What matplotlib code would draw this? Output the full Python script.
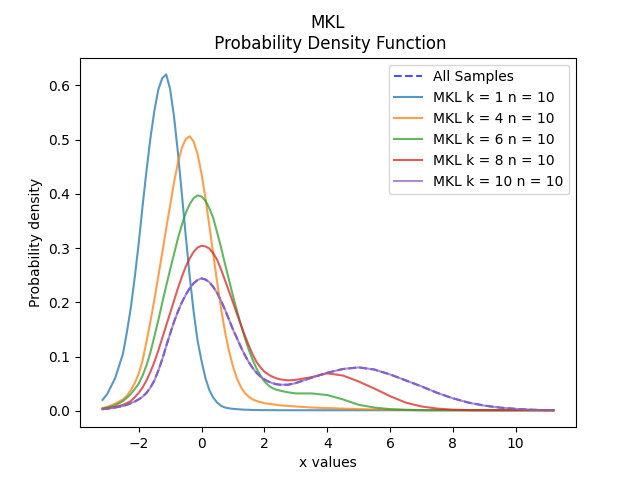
import matplotlib
matplotlib.use('Agg')
import matplotlib.pyplot as plt

x_values = [-3.15, -3.0, -2.75,
            -2.5, -2.375, -2.25, -2.125, -2.0, -1.875, -1.75, -1.625, -1.5, -1.375,
            -1.25, -1.125, -1.0, -0.875, -0.75, -0.625, -0.5, -0.375, -0.25, -0.125,
            0.0, 0.125, 0.25, 0.375, 0.5, 0.625, 0.75, 0.875, 1.0, 1.125,
            1.25, 1.375, 1.5, 1.625, 1.75, 1.875, 2.0, 2.125, 2.25, 2.375, 2.5,
            2.75, 3.0, 3.5, 4.0, 4.5, 5.0, 5.5, 6.0, 6.5, 7.0,
            7.5, 8.0, 8.5, 9.0, 9.5, 10.0, 10.5, 11.0, 11.2]

all_samples = [0.003, 0.004, 0.006,
               0.009, 0.011, 0.014, 0.017, 0.021, 0.026, 0.033, 0.043, 0.056, 0.074,
               0.095, 0.119, 0.142, 0.164, 0.183, 0.200, 0.214, 0.226, 0.235, 0.241,
               0.244, 0.242, 0.237, 0.228, 0.217, 0.202, 0.186, 0.168, 0.150, 0.134,
               0.118, 0.103, 0.090, 0.079, 0.070, 0.063, 0.058, 0.054, 0.051, 0.049, 0.048,
               0.048, 0.051, 0.061, 0.070, 0.077, 0.080, 0.076, 0.067, 0.056, 0.045,
               0.033, 0.023, 0.015, 0.0095, 0.0058, 0.0035, 0.002, 0.001, 0.0007]

mkl_k1 = [0.020, 0.031, 0.060,
          0.105, 0.145, 0.190, 0.246, 0.308, 0.378, 0.443, 0.503, 0.553, 0.592,
          0.613, 0.620, 0.593, 0.542, 0.475, 0.399, 0.321, 0.247, 0.182, 0.129,
          0.092, 0.060, 0.038, 0.024, 0.015, 0.009, 0.006, 0.0045, 0.0035, 0.003,
          0.0025, 0.002, 0.0018, 0.0015, 0.0014, 0.0013, 0.0012, 0.0012, 0.0011, 0.0011, 0.001,
          0.001, 0.001, 0.001, 0.001, 0.001, 0.001, 0.001, 0.001, 0.001, 0.001,
          0.001, 0.001, 0.001, 0.001, 0.001, 0.001, 0.001, 0.001, 0.001]

mkl_k4 = [0.005, 0.007, 0.013,
          0.021, 0.028, 0.038, 0.051, 0.068, 0.093, 0.128, 0.165, 0.205, 0.248,
          0.291, 0.336, 0.378, 0.421, 0.457, 0.485, 0.501, 0.506, 0.496, 0.473,
          0.437, 0.392, 0.341, 0.288, 0.236, 0.187, 0.145, 0.110, 0.082, 0.060,
          0.044, 0.033, 0.026, 0.021, 0.018, 0.016, 0.014, 0.013, 0.012, 0.011, 0.010,
          0.009, 0.008, 0.006, 0.005, 0.004, 0.003, 0.0025, 0.002, 0.0015, 0.0012,
          0.001, 0.001, 0.001, 0.001, 0.001, 0.001, 0.001, 0.001, 0.001]

mkl_k6 = [0.004, 0.006, 0.010,
          0.018, 0.024, 0.031, 0.040, 0.050, 0.065, 0.084, 0.108, 0.137, 0.167,
          0.199, 0.230, 0.260, 0.289, 0.318, 0.343, 0.365, 0.381, 0.392, 0.397,
          0.395, 0.387, 0.373, 0.355, 0.328, 0.300, 0.270, 0.241, 0.212, 0.185,
          0.159, 0.135, 0.113, 0.094, 0.078, 0.065, 0.054, 0.047, 0.042, 0.039, 0.037,
          0.034, 0.032, 0.032, 0.029, 0.021, 0.011, 0.006, 0.003, 0.0018, 0.0012,
          0.001, 0.001, 0.001, 0.001, 0.001, 0.001, 0.001, 0.001, 0.001]

mkl_k8 = [0.003, 0.004, 0.007,
          0.011, 0.014, 0.018, 0.025, 0.033, 0.043, 0.056, 0.072, 0.090, 0.111,
          0.134, 0.157, 0.180, 0.203, 0.226, 0.247, 0.266, 0.281, 0.293, 0.301,
          0.304, 0.303, 0.299, 0.290, 0.278, 0.260, 0.240, 0.220, 0.200, 0.179,
          0.159, 0.139, 0.121, 0.104, 0.090, 0.080, 0.072, 0.067, 0.063, 0.060, 0.058,
          0.056, 0.057, 0.062, 0.069, 0.065, 0.054, 0.041, 0.027, 0.015, 0.008,
          0.004, 0.002, 0.0012, 0.001, 0.001, 0.001, 0.001, 0.001, 0.001]

# k = 10 with n = 10 gives back the full sample density
mkl_k10 = list(all_samples)

mkl_curves = [
    ("MKL k = 1 n = 10", mkl_k1),
    ("MKL k = 4 n = 10", mkl_k4),
    ("MKL k = 6 n = 10", mkl_k6),
    ("MKL k = 8 n = 10", mkl_k8),
    ("MKL k = 10 n = 10", mkl_k10),
]

plt.figure(figsize=(6.4, 4.8))
plt.plot(x_values, all_samples, '--', color='blue', alpha=0.7, label='All Samples')
for label, dens in mkl_curves:
    plt.plot(x_values, dens, alpha=0.75, label=label)

plt.title("MKL\n Probability Density Function")
plt.xlabel("x values")
plt.ylabel("Probability density")
plt.legend(loc='upper right')
plt.savefig("out.png", dpi=100)
plt.close()
